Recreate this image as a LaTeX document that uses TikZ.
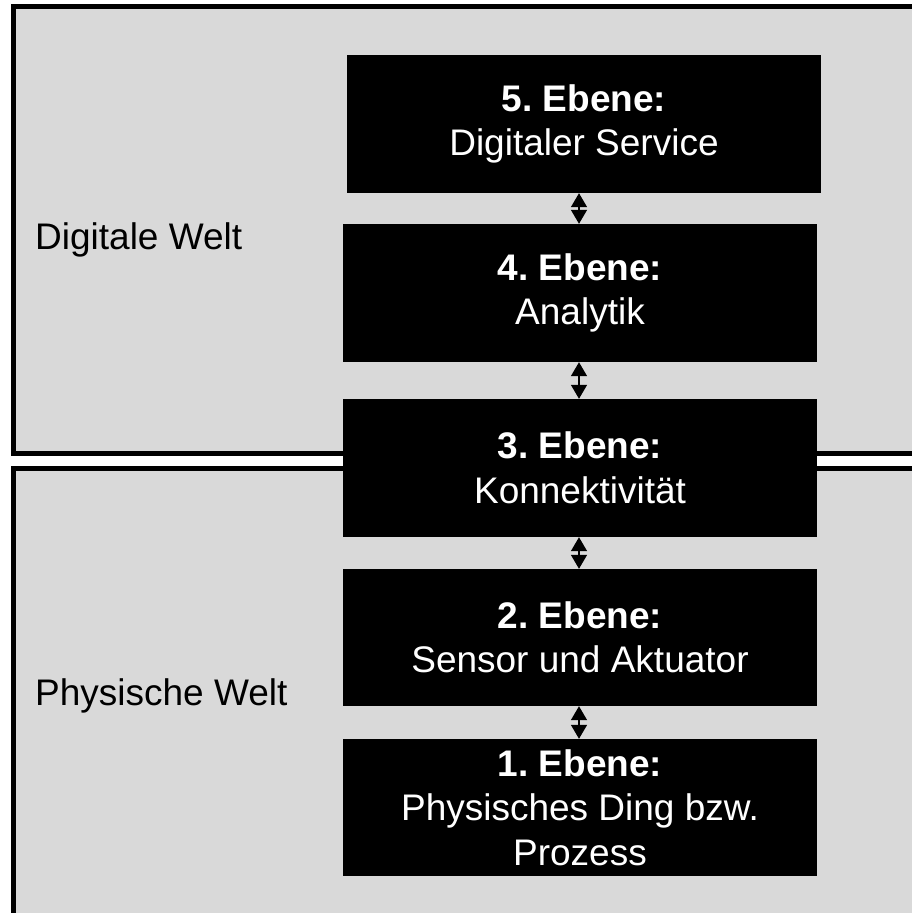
\documentclass[tikz,border=0pt]{standalone}
\usepackage{fontspec}
\setmainfont{Liberation Sans}
\usetikzlibrary{arrows.meta}
\definecolor{worldgray}{HTML}{D9D9D9}
\frenchspacing
\begin{document}
\begin{tikzpicture}[x=1pt,y=1pt,
  world/.style={draw=black,line width=5pt,fill=worldgray},
  layer/.style={fill=black,text=white,inner sep=0pt,align=center,
    font=\fontsize{37}{44.5}\selectfont},
  worldlabel/.style={anchor=west,inner sep=0pt,font=\fontsize{37}{44.5}\selectfont},
  link/.style={line width=1.5pt,{Triangle[width=16pt,length=14pt]}-{Triangle[width=16pt,length=14pt]}}]
\useasboundingbox (0,0) rectangle (912,-913);
\fill[white] (0,0) rectangle (912,-913);
\begin{scope}
\clip (0,0) rectangle (912,-913);
\draw[world] (13.5,-6.5) rectangle (930,-453.5);
\draw[world] (13.5,-468.5) rectangle (930,-930);
\end{scope}
\node[worldlabel] (dw) at (35,-240) {Digitale Welt};
\node[worldlabel] (pw) at (35,-696) {Physische Welt};
\node[layer,minimum width=474pt,minimum height=138pt] (b5) at (584,-124) {\textbf{5. Ebene:}\\Digitaler Service};
\node[layer,minimum width=474pt,minimum height=138pt] (b4) at (580,-293) {\textbf{4. Ebene:}\\Analytik};
\node[layer,minimum width=474pt,minimum height=138pt] (b3) at (580,-468) {\textbf{3. Ebene:}\\Konnektivität};
\node[layer,minimum width=474pt,minimum height=137pt] (b2) at (580,-637.5) {\textbf{2. Ebene:}\\Sensor und Aktuator};
\node[layer,minimum width=474pt,minimum height=137pt] (b1) at (580,-807.5) {\textbf{1. Ebene:}\\Physisches Ding bzw.\\Prozess};
\draw[link] ([xshift=-1pt]b5.south -| b4.north) -- ([xshift=-1pt]b4.north);
\draw[link] ([xshift=-1pt]b4.south) -- ([xshift=-1pt]b3.north);
\draw[link] ([xshift=-1pt]b3.south) -- ([xshift=-1pt]b2.north);
\draw[link] ([xshift=-1pt]b2.south) -- ([xshift=-1pt]b1.north);
\end{tikzpicture}
\end{document}
